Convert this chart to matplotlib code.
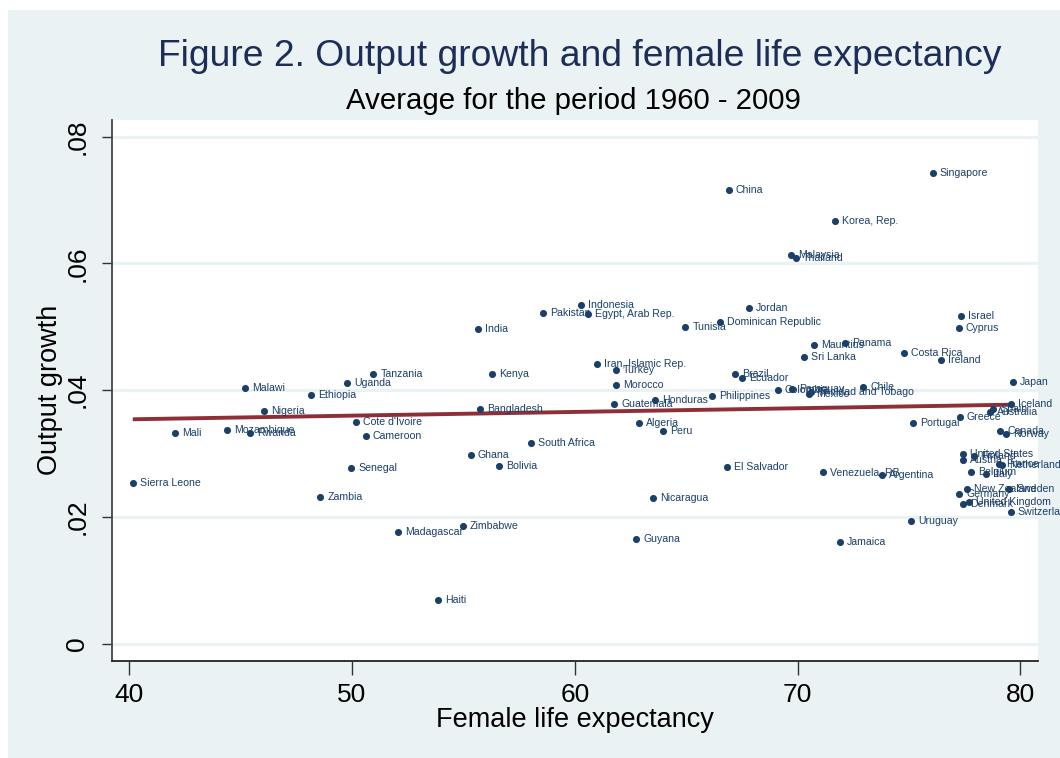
import numpy as np
import matplotlib
matplotlib.use("Agg")
import matplotlib.pyplot as plt
from matplotlib.patches import Rectangle

plt.rcParams['font.family'] = ['Liberation Sans', 'DejaVu Sans']

countries = [
    "Singapore", "China", "Korea, Rep.", "Malaysia", "Thailand", "Jordan",
    "Dominican Republic", "Israel", "Cyprus", "Mauritius", "Panama", "Sri Lanka",
    "Costa Rica", "Ireland", "Japan", "Chile", "Brazil", "Ecuador", "Colombia",
    "Paraguay", "Mexico", "Trinidad and Tobago", "Iran, Islamic Rep.", "Turkey",
    "Morocco", "Guatemala", "Honduras", "Philippines", "Algeria", "Peru",
    "South Africa", "Bolivia", "El Salvador", "Venezuela, RB", "Nicaragua",
    "Guyana", "Jamaica", "India", "Pakistan", "Indonesia", "Egypt, Arab Rep.",
    "Tunisia", "Kenya", "Malawi", "Uganda", "Tanzania", "Ethiopia", "Nigeria",
    "Mali", "Mozambique", "Rwanda", "Cote d'Ivoire", "Cameroon", "Bangladesh",
    "Ghana", "Senegal", "Sierra Leone", "Zambia", "Madagascar", "Zimbabwe",
    "Haiti", "Iceland", "Spain", "Australia", "Greece", "Portugal", "Canada",
    "Norway", "United States", "Finland", "Austria", "France", "Netherlands",
    "Belgium", "Italy", "New Zealand", "Sweden", "Germany", "United Kingdom",
    "Denmark", "Switzerland", "Uruguay", "Argentina",
]

life_exp = [
    76.07, 66.91, 71.67, 69.69, 69.93, 67.82,
    66.53, 77.34, 77.23, 70.73, 72.13, 70.28,
    74.78, 76.44, 79.66, 72.94, 67.18, 67.51, 69.11,
    69.74, 70.53, 70.61, 61.00, 61.84,
    61.85, 61.78, 63.59, 66.18, 62.89, 63.98,
    58.04, 56.62, 66.82, 71.14, 63.51,
    62.75, 71.89, 55.65, 58.58, 60.27, 60.61,
    64.96, 56.27, 45.20, 49.79, 50.96, 48.16, 46.04,
    42.05, 44.39, 45.44, 50.20, 50.63, 55.75,
    55.33, 49.97, 40.16, 48.58, 52.06, 54.96,
    53.88, 79.58, 78.79, 78.64, 77.29, 75.20, 79.09,
    79.34, 77.44, 77.92, 77.41, 79.04, 79.19,
    77.77, 78.45, 77.61, 79.51, 77.26, 77.70,
    77.44, 79.57, 75.09, 73.78,
]

growth = [
    0.0743, 0.0716, 0.0667, 0.0613, 0.0609, 0.0530,
    0.0507, 0.0517, 0.0498, 0.0472, 0.0474, 0.0453,
    0.0459, 0.0448, 0.0413, 0.0405, 0.0425, 0.0419, 0.0400,
    0.0401, 0.0394, 0.0397, 0.0441, 0.0432,
    0.0408, 0.0378, 0.0385, 0.0391, 0.0348, 0.0335,
    0.0316, 0.0281, 0.0278, 0.0270, 0.0229,
    0.0165, 0.0160, 0.0496, 0.0522, 0.0534, 0.0520,
    0.0500, 0.0426, 0.0404, 0.0412, 0.0426, 0.0392, 0.0367,
    0.0333, 0.0337, 0.0333, 0.0350, 0.0328, 0.0370,
    0.0298, 0.0277, 0.0254, 0.0232, 0.0176, 0.0186,
    0.0069, 0.0378, 0.0370, 0.0365, 0.0357, 0.0348, 0.0335,
    0.0331, 0.0299, 0.0296, 0.0289, 0.0284, 0.0282,
    0.0270, 0.0267, 0.0244, 0.0244, 0.0236, 0.0223,
    0.0220, 0.0207, 0.0193, 0.0266,
]

# fitted line end values
fit_x = [40.16, 79.58]
fit_y = [0.0354, 0.0377]

x_ticks = [40, 50, 60, 70, 80]
y_ticks = [0, 0.02, 0.04, 0.06, 0.08]
y_tick_labels = ["0", ".02", ".04", ".06", ".08"]

BG = "#EAF2F3"
NAVY = "#1A3F68"
TITLE_C = "#1C2D58"
FIT_C = "#8E2F38"

W, H = 1060, 758
fig = plt.figure(figsize=(W / 100, H / 100), dpi=100, facecolor="white")
fig.patches.append(Rectangle((8 / W, 0), 1 - 8 / W, 1 - 10 / H,
                             transform=fig.transFigure, facecolor=BG,
                             edgecolor="none", zorder=-10))

ax = fig.add_axes([111.6 / W, 1 - 660.7 / H, (1038 - 111.6) / W, (660.7 - 120) / H])
ax.set_zorder(5)
ax.set_facecolor("white")
ax.set_xlim(39.21, 80.79)
ax.set_ylim(-0.00271, 0.08264)

for yt in y_ticks:
    ax.axhline(yt, color=BG, lw=2.2, zorder=1)

ax.plot(fit_x, fit_y, color=FIT_C, lw=2.8, zorder=2, solid_capstyle="butt")
ax.scatter(life_exp, growth, s=26, color=NAVY, zorder=3, linewidths=0)
for name, xv, yv in zip(countries, life_exp, growth):
    ax.annotate(name, (xv, yv), xytext=(5, 0), textcoords="offset points",
                fontsize=7.6, color=NAVY, va="center", ha="left", zorder=4,
                annotation_clip=False)

for s in ["top", "right"]:
    ax.spines[s].set_visible(False)
ax.spines["left"].set_color("#444444")
ax.spines["bottom"].set_color("#222222")
ax.spines["left"].set_linewidth(1.3)
ax.spines["bottom"].set_linewidth(1.3)

ax.set_xticks(x_ticks)
ax.set_xticklabels([str(t) for t in x_ticks], fontsize=19)
ax.set_yticks(y_ticks)
ax.set_yticklabels(y_tick_labels, fontsize=19, rotation=90, va="center")
ax.tick_params(axis="x", length=10, width=1.0, color="#333333", pad=6)
ax.tick_params(axis="y", length=7, width=1.0, color="#333333", pad=9)

ax.set_xlabel("Female life expectancy", fontsize=19.5, labelpad=0)
ax.set_ylabel("Output growth", fontsize=19.5, labelpad=2)

fig.text(580 / W, 1 - 56 / H, "Figure 2. Output growth and female life expectancy",
         fontsize=26.8, color=TITLE_C, ha="center", va="center")
fig.text(573 / W, 1 - 101 / H, "Average for the period 1960 - 2009",
         fontsize=21.2, color="black", ha="center", va="center")

fig.savefig("out.png", dpi=100, facecolor="white")
